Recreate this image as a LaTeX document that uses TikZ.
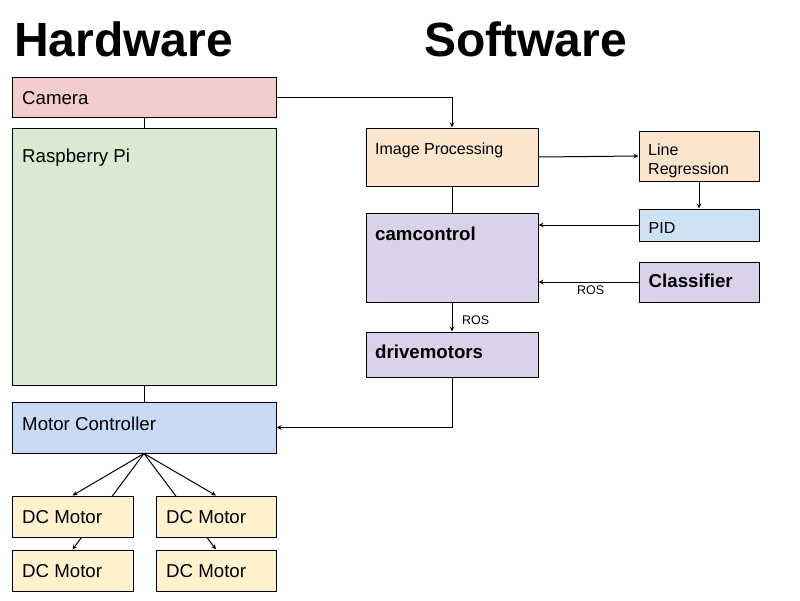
\documentclass[tikz,border=0pt]{standalone}
\usepackage{fontspec}
\setmainfont{Liberation Sans}
\usetikzlibrary{arrows.meta,backgrounds}
\definecolor{camc}{HTML}{F4CCCC}
\definecolor{pic}{HTML}{D9EAD3}
\definecolor{mcc}{HTML}{C9DAF8}
\definecolor{dcc}{HTML}{FFF2CC}
\definecolor{orc}{HTML}{FCE5CD}
\definecolor{puc}{HTML}{D9D2E9}
\definecolor{blc}{HTML}{CFE2F3}
\tikzset{
  box/.style={draw=black, line width=1pt, inner sep=0pt, minimum width=#1},
  txt/.style={anchor=base west, inner sep=0pt, font=\fontsize{18.67}{22}\selectfont},
  stxt/.style={anchor=base west, inner sep=0pt, font=\fontsize{16}{19}\selectfont},
  btxt/.style={anchor=base west, inner sep=0pt, font=\fontsize{18.67}{22}\selectfont\bfseries},
  rtxt/.style={anchor=base west, inner sep=0pt, font=\fontsize{12.5}{15}\selectfont},
  ttl/.style={anchor=base west, inner sep=0pt, font=\fontsize{48}{56}\selectfont\bfseries},
  conn/.style={draw=black, line width=1pt},
  arr/.style={conn, -{Stealth[length=5pt,width=4.5pt]}},
}
\begin{document}
\begin{tikzpicture}[x=1pt,y=-1pt]
\useasboundingbox (0,0) rectangle (800,600);
% titles
\node[ttl] (th) at (14,56) {Hardware};
\node[ttl] (ts) at (424,56) {Software};
% hardware boxes
\node[box=264pt, fill=camc, minimum height=40pt] (cam) at (144,97) {};
\node[box=264pt, fill=pic, minimum height=257pt] (pi) at (144,256.5) {};
\node[box=264pt, fill=mcc, minimum height=51pt] (mc) at (144,427.5) {};
\node[box=121pt, fill=dcc, minimum height=41pt] (dc1) at (72.5,516.5) {};
\node[box=120pt, fill=dcc, minimum height=41pt] (dc2) at (216,516.5) {};
\node[box=121pt, fill=dcc, minimum height=41pt] (dc3) at (72.5,570.5) {};
\node[box=120pt, fill=dcc, minimum height=41pt] (dc4) at (216,570.5) {};
% software boxes
\node[box=172pt, fill=orc, minimum height=58pt] (ip) at (452,157) {};
\node[box=120pt, fill=orc, minimum height=50pt] (lr) at (699,156) {};
\node[box=172pt, fill=puc, minimum height=89pt] (cc) at (452,257.5) {};
\node[box=120pt, fill=blc, minimum height=32pt] (pid) at (699,225) {};
\node[box=120pt, fill=puc, minimum height=40pt] (cls) at (699,282) {};
\node[box=172pt, fill=puc, minimum height=45pt] (dm) at (452,354.5) {};
% texts
\node[txt] (tcam) at (22,104) {Camera};
\node[txt] (tpi) at (22,162) {Raspberry Pi};
\node[txt] (tmc) at (22,430) {Motor Controller};
\node[txt] (tdc1) at (22,523.3) {DC Motor};
\node[txt] (tdc2) at (166,523.3) {DC Motor};
\node[txt] (tdc3) at (22,577.7) {DC Motor};
\node[txt] (tdc4) at (166,577.7) {DC Motor};
\node[stxt] (tip) at (375,154) {Image Processing};
\node[stxt] (tlr1) at (648,155) {Line};
\node[stxt] (tlr2) at (648,174) {Regression};
\node[stxt] (tpid) at (648.5,233) {PID};
\node[btxt] (tcc) at (375,240) {camcontrol};
\node[btxt] (tcls) at (648.5,287) {Classifier};
\node[btxt] (tdm) at (375,358) {drivemotors};
\node[rtxt] (ros1) at (577,294) {ROS};
\node[rtxt] (ros2) at (462,324) {ROS};
% connectors
\begin{scope}[on background layer]
\draw[conn] (cam.south) -- (pi.north);
\draw[conn] (pi.south) -- (mc.north);
\draw[arr] (mc.south) -- (dc1.north);
\draw[arr] (mc.south) -- (dc2.north);
\draw[arr] (mc.south) -- (dc3.north);
\draw[arr] (mc.south) -- (dc4.north);
\draw[conn] (ip.south) -- (cc.north);
\end{scope}
\draw[arr] (cam.east) -| (ip.north);
\draw[arr] (ip.east) -- (lr.west);
\draw[arr] (lr.south) -- (pid.north);
\draw[arr] (pid.west) -- (cc.east |- pid.west);
\draw[arr] (cls.west) -- (cc.east |- cls.west);
\draw[arr] (cc.south) -- (dm.north);
\draw[arr] (dm.south) |- (mc.east);
\end{tikzpicture}
\end{document}
